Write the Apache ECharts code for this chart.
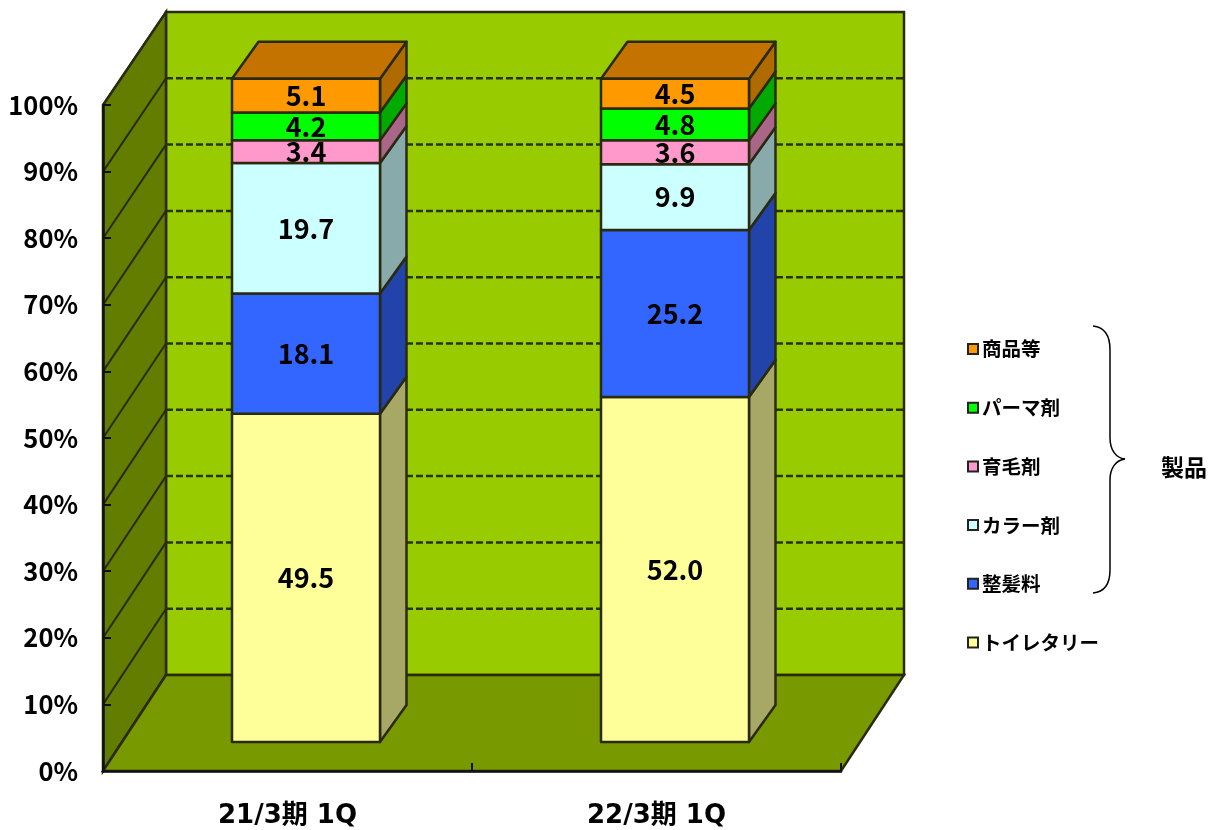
<!DOCTYPE html>
<html>
<head>
<meta charset="utf-8">
<style>html,body{margin:0;padding:0;background:#fff}#c{width:1221px;height:830px}</style>
<script src="https://cdn.jsdelivr.net/npm/echarts@6/dist/echarts.min.js"></script>
</head>
<body>
<div id="c"></div>
<script>
var categories = ['21/3期 1Q', '22/3期 1Q'];
var yTicks = [0, 10, 20, 30, 40, 50, 60, 70, 80, 90, 100];
var toiletry = [49.5, 52.0];
var styling = [18.1, 25.2];
var colorAgent = [19.7, 9.9];
var hairGrowth = [3.4, 3.6];
var perm = [4.2, 4.8];
var goods = [5.1, 4.5];
var seriesNames = ['トイレタリー', '整髪料', 'カラー剤', '育毛剤', 'パーマ剤', '商品等'];
var frontColors = ['#FFFF99', '#3366FF', '#CCFFFF', '#FF99CC', '#00FF00', '#FF9900'];
var sideColors = ['#A8A866', '#2244AA', '#88AAAA', '#AA6688', '#00AA00', '#AF6A00'];

var FONT = '"Noto Sans CJK JP", sans-serif';
var WALL_DX = 63, WALL_DY = 96, WALL_SCALE = 663 / 666;
var BAR_DX = 18.5, BAR_DY = 29, BAR_SCALE = 0.996, BAR_W = 148, SIDE_DX = 26.5, SIDE_DY = 37;
var EDGE = '#2A2A10';

function wallY(api, v, bottom) { return bottom - WALL_DY - (bottom - api.coord([0, v])[1]) * WALL_SCALE; }

function renderWalls(params, api) {
  var g = params.coordSys;
  var L = g.x, R = g.x + g.width, B = g.y + g.height;
  var backTop = wallY(api, 100, B), backBottom = wallY(api, 0, B);
  var front100 = api.coord([0, 100])[1];
  var st = function (fill) { return { fill: fill, stroke: EDGE, lineWidth: 2.5 }; };
  return { type: 'group', children: [
    { type: 'polygon', shape: { points: [[L + WALL_DX, backTop], [R + WALL_DX, backTop], [R + WALL_DX, backBottom], [L + WALL_DX, backBottom]] }, style: st('#99CC00') },
    { type: 'polygon', shape: { points: [[L, front100], [L + WALL_DX, backTop], [L + WALL_DX, backBottom], [L, B]] }, style: st('#637D00') },
    { type: 'polygon', shape: { points: [[L, B], [R, B], [R + WALL_DX, backBottom], [L + WALL_DX, backBottom]] }, style: st('#789900') }
  ] };
}

function renderGrid(params, api) {
  var g = params.coordSys;
  var L = g.x, R = g.x + g.width, B = g.y + g.height;
  var v = api.value(1);
  var f = api.coord([0, v])[1], b = wallY(api, v, B);
  var kids = [
    { type: 'line', shape: { x1: L, y1: f, x2: L + WALL_DX, y2: b }, style: { stroke: EDGE, lineWidth: 2 } }
  ];
  if (v < 100) {
    kids.push({ type: 'line', shape: { x1: L + WALL_DX, y1: b, x2: R + WALL_DX, y2: b }, style: { stroke: '#2A3300', lineWidth: 2.5, lineDash: [7, 3] } });
  }
  return { type: 'group', children: kids };
}

function makeRender(idx) {
  return function (params, api) {
    var B = params.coordSys.y + params.coordSys.height;
    var cat = api.value(0), base = api.value(1), val = api.value(2);
    var cx = api.coord([cat, 0])[0] + BAR_DX;
    var y = function (v) { return B - BAR_DY - (B - api.coord([cat, v])[1]) * BAR_SCALE; };
    var y0 = y(base), y1 = y(base + val);
    var x0 = cx - BAR_W / 2, x1 = cx + BAR_W / 2;
    var st = function (fill) { return { fill: fill, stroke: EDGE, lineWidth: 2.5, lineJoin: 'round' }; };
    var kids = [
      { type: 'polygon', shape: { points: [[x1, y0], [x1 + SIDE_DX, y0 - SIDE_DY], [x1 + SIDE_DX, y1 - SIDE_DY], [x1, y1]] }, style: st(sideColors[idx]) }
    ];
    if (idx === seriesNames.length - 1) {
      kids.push({ type: 'polygon', shape: { points: [[x0, y1], [x1, y1], [x1 + SIDE_DX, y1 - SIDE_DY], [x0 + SIDE_DX, y1 - SIDE_DY]] }, style: st('#C47200') });
    }
    kids.push({ type: 'rect', shape: { x: x0, y: y1, width: BAR_W, height: y0 - y1 }, style: st(frontColors[idx]) });
    kids.push({ type: 'text', z2: 10, style: { text: val.toFixed(1), x: cx, y: (y0 + y1) / 2, align: 'center', verticalAlign: 'middle', fill: '#000', font: 'bold 27px ' + FONT } });
    return { type: 'group', children: kids };
  };
}

var valueArrays = [toiletry, styling, colorAgent, hairGrowth, perm, goods];
var running = categories.map(function () { return 0; });
var barSeries = valueArrays.map(function (arr, i) {
  var data = arr.map(function (v, c) { var d = [c, running[c], v]; running[c] += v; return d; });
  return {
    name: seriesNames[i], type: 'custom', renderItem: makeRender(i), data: data, z: 5,
    encode: { x: 0, y: 1 }, clip: false,
    itemStyle: { color: frontColors[i], borderColor: '#222', borderWidth: 1.5 }
  };
});

var chart = echarts.init(document.getElementById('c'), null, { renderer: 'canvas' });
chart.setOption({
  animation: false,
  grid: { left: 103, top: 105, width: 738, height: 666 },
  xAxis: {
    type: 'category', data: categories, z: 10,
    axisLine: { lineStyle: { color: '#111', width: 2.5 } },
    axisTick: { show: true, inside: true, length: 8, lineStyle: { color: '#111', width: 2 } },
    axisLabel: { margin: 32, color: '#000', fontFamily: '"DejaVu Sans", "Noto Sans CJK JP", sans-serif', fontSize: 26, fontWeight: 'bold' }
  },
  yAxis: {
    type: 'value', min: 0, max: 100, interval: 10, z: 10,
    splitLine: { show: false },
    axisLine: { show: true, lineStyle: { color: '#111', width: 2.5 } },
    axisTick: { show: true, inside: true, length: 8, lineStyle: { color: '#111', width: 2 } },
    axisLabel: { margin: 25, color: '#000', fontFamily: FONT, fontSize: 25.5, fontWeight: 'bold', formatter: '{value}%' }
  },
  legend: {
    orient: 'vertical', left: 962, top: 330, icon: 'rect', itemWidth: 10, itemHeight: 10, itemGap: 30.7,
    selectedMode: false, data: seriesNames.slice().reverse(),
    textStyle: { color: '#000', fontFamily: FONT, fontSize: 19.5, fontWeight: 'bold', lineHeight: 20, padding: [8, 0, 0, -1] }
  },
  graphic: [
    { type: 'group', silent: true, children: [
      { type: 'bezierCurve', shape: { x1: 1093, y1: 326, cpx1: 1104, cpy1: 327, cpx2: 1110, cpy2: 335, x2: 1110, y2: 350 }, style: { stroke: '#000', lineWidth: 1.5, fill: 'none' } },
      { type: 'line', shape: { x1: 1110, y1: 350, x2: 1110, y2: 438 }, style: { stroke: '#000', lineWidth: 1.5 } },
      { type: 'bezierCurve', shape: { x1: 1110, y1: 438, cpx1: 1110, cpy1: 450, cpx2: 1116, cpy2: 458, x2: 1125, y2: 459 }, style: { stroke: '#000', lineWidth: 1.5, fill: 'none' } },
      { type: 'bezierCurve', shape: { x1: 1125, y1: 459, cpx1: 1116, cpy1: 460, cpx2: 1110, cpy2: 468, x2: 1110, y2: 480 }, style: { stroke: '#000', lineWidth: 1.5, fill: 'none' } },
      { type: 'line', shape: { x1: 1110, y1: 480, x2: 1110, y2: 570 }, style: { stroke: '#000', lineWidth: 1.5 } },
      { type: 'bezierCurve', shape: { x1: 1110, y1: 570, cpx1: 1110, cpy1: 585, cpx2: 1104, cpy2: 592, x2: 1093, y2: 593 }, style: { stroke: '#000', lineWidth: 1.5, fill: 'none' } }
    ] },
    { type: 'text', left: 1161, top: 456, style: { text: '製品', fill: '#000', font: 'bold 23px ' + FONT } }
  ],
  series: [
    { name: 'walls', type: 'custom', renderItem: renderWalls, data: [[0, 0]], encode: { x: 0, y: 1 }, z: 1, silent: true },
    { name: 'grid', type: 'custom', renderItem: renderGrid, data: yTicks.slice(1).map(function (t) { return [0, t]; }), encode: { x: 0, y: 1 }, z: 2, silent: true }
  ].concat(barSeries)
});
</script>
</body>
</html>
